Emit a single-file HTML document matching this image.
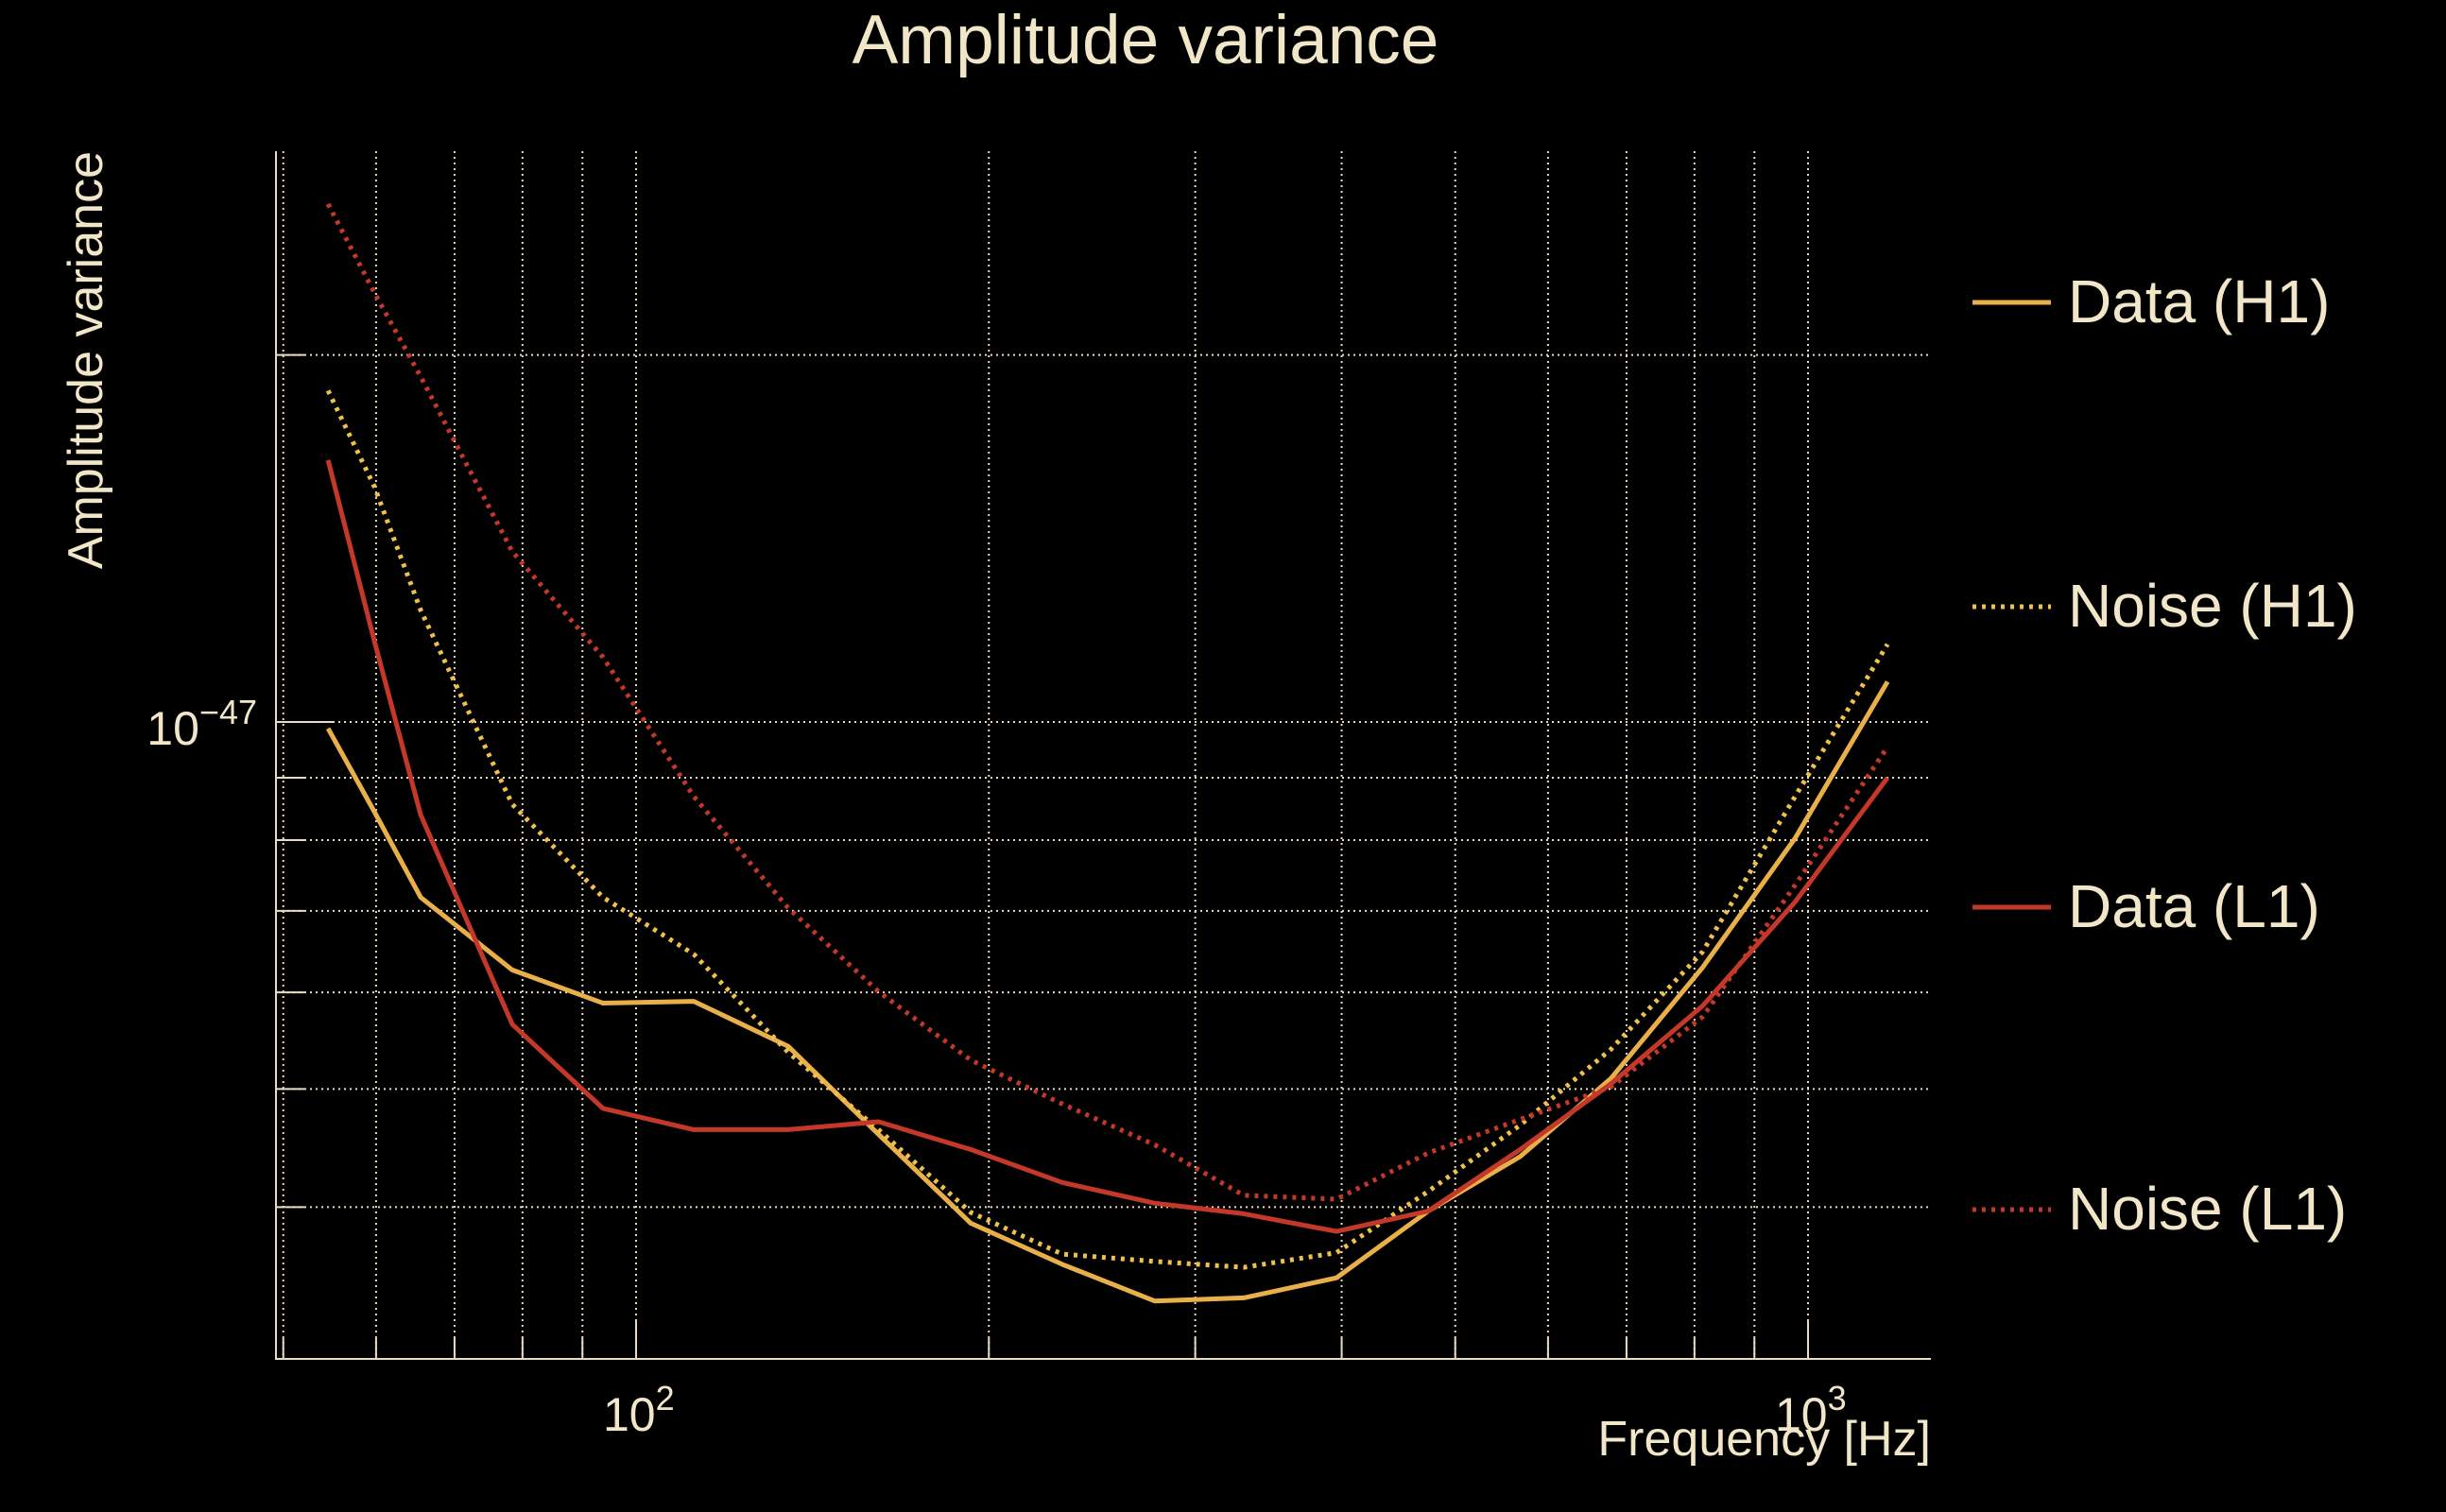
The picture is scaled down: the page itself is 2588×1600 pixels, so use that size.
<!DOCTYPE html>
<html><head><meta charset="utf-8"><style>
html,body{margin:0;padding:0;background:#000;}
svg{display:block;font-family:"Liberation Sans",sans-serif;}
</style></head><body>
<svg id="chart" width="2588" height="1600" viewBox="0 0 2588 1600" xmlns="http://www.w3.org/2000/svg">
<rect width="2588" height="1600" fill="#000"/>
<g id="grid"></g>
<g id="axes"></g>
<g id="series"></g>
<text x="1212" y="67" fill="#f2e6c9" font-size="73" text-anchor="middle">Amplitude variance</text>
<text transform="translate(108,160) rotate(-90)" fill="#f2e6c9" font-size="52" text-anchor="end">Amplitude variance</text>
<text x="2043" y="1540" fill="#f2e6c9" font-size="52" text-anchor="end">Frequency [Hz]</text>
<g id="legend"></g>
</svg>
<script>
const freqs = [54.6,59.8,65.5,78.4,93.7,112,134.8,161,193,231,277,330,396,474,568,679,813,975,1169];
// values in units of 1e-48
const dataH1 = [9.88,8.44,7.18,6.26,5.88,5.90,5.42,4.59,3.88,3.59,3.35,3.37,3.50,3.97,4.40,5.10,6.29,8.03,10.79];
const noiseH1 = [18.7,15.6,12.35,8.56,7.18,6.45,5.36,4.63,3.96,3.66,3.61,3.57,3.67,4.12,4.67,5.39,6.48,8.69,11.58];
const dataL1 = [16.4,11.65,8.39,5.65,4.82,4.63,4.63,4.70,4.46,4.19,4.03,3.95,3.82,3.97,4.46,5.05,5.85,7.12,9.00];
const noiseL1 = [26.6,22.5,19.2,13.8,11.3,8.69,7.04,6.01,5.28,4.86,4.50,4.09,4.06,4.43,4.72,5.02,5.73,7.35,9.54];
const xGrid = [50,60,70,80,90,100,200,300,400,500,600,700,800,900,1000];
const yGrid = [4,5,6,7,8,9,10,20];

const NS="http://www.w3.org/2000/svg";
const L=292,R=2043,T=160,B=1438;
function xs(f){return 673+(Math.log10(f)-2)*1240;}
function ys(v){return 764-(Math.log10(v)-1)*1290;}
function mk(tag,attrs,parent){const e=document.createElementNS(NS,tag);for(const k in attrs)e.setAttribute(k,attrs[k]);parent.appendChild(e);return e;}
const grid=document.getElementById('grid'),axes=document.getElementById('axes'),ser=document.getElementById('series'),leg=document.getElementById('legend');
const gc="#e8dcc0";
xGrid.forEach(f=>{const x=xs(f);
 const g=mk('line',{x1:x,x2:x,y1:T,y2:B,stroke:gc,'stroke-width':2,'stroke-dasharray':'2 4'},grid);
 
 
 const major=(f===100||f===1000);
 const t=mk('line',{x1:x,x2:x,y1:B,y2:B-(major?40:22),stroke:gc,'stroke-width':2},axes);
 
 
});
yGrid.forEach(v=>{const y=ys(v);
 const g=mk('line',{x1:L,x2:R,y1:y,y2:y,stroke:gc,'stroke-width':2,'stroke-dasharray':'2 4'},grid);
 
 
 const t=mk('line',{x1:L,x2:L+(v===10?60:30),y1:y,y2:y,stroke:gc,'stroke-width':2},axes);
 
 
});
const ax=mk('path',{d:`M${L},${T}V${B}H${R}`,stroke:gc,'stroke-width':2,fill:'none'},axes);


function sup(x,y,base,exp,anchor,name){
 const t=mk('text',{x:x,y:y,fill:'#f2e6c9','font-size':50,'text-anchor':anchor},axes);
 
 
 t.innerHTML=base+'<tspan dy="-22" font-size="36">'+exp+'</tspan>';
}
sup(272,788,'10','\u221247','end','y-tick-label-1e-47');
sup(xs(100)-35,1514,'10','2','start','x-tick-label-100');
sup(xs(1000)-35,1514,'10','3','start','x-tick-label-1000');

const seriesList=[
 {name:'Data (H1)',vals:dataH1,color:'#e9b04a',dash:null,id:'data-h1'},
 {name:'Noise (H1)',vals:noiseH1,color:'#f0c04c',dash:'4 6',id:'noise-h1'},
 {name:'Data (L1)',vals:dataL1,color:'#c4382a',dash:null,id:'data-l1'},
 {name:'Noise (L1)',vals:noiseL1,color:'#c4382a',dash:'4 6',id:'noise-l1'}];
const legY=[314,636,954,1274];
seriesList.forEach((s,i)=>{
 const d=s.vals.map((v,j)=>(j?'L':'M')+xs(freqs[j]).toFixed(1)+','+ys(v).toFixed(1)).join('');
 const a={d:d,stroke:s.color,'stroke-width':5,fill:'none','stroke-linejoin':'round'};
 if(s.dash){a['stroke-dasharray']=s.dash;}
 const p=mk('path',a,ser);
 
 
 const la={x1:2087,x2:2170,y1:legY[i]+6,y2:legY[i]+6,stroke:s.color,'stroke-width':5};
 if(s.dash){la['stroke-dasharray']=s.dash;}
 const ll=mk('line',la,leg);
 
 
 const lt=mk('text',{x:2188,y:legY[i]+27,fill:'#f2e6c9','font-size':64},leg);
 
 
 lt.textContent=s.name;
});
</script>
</body></html>
